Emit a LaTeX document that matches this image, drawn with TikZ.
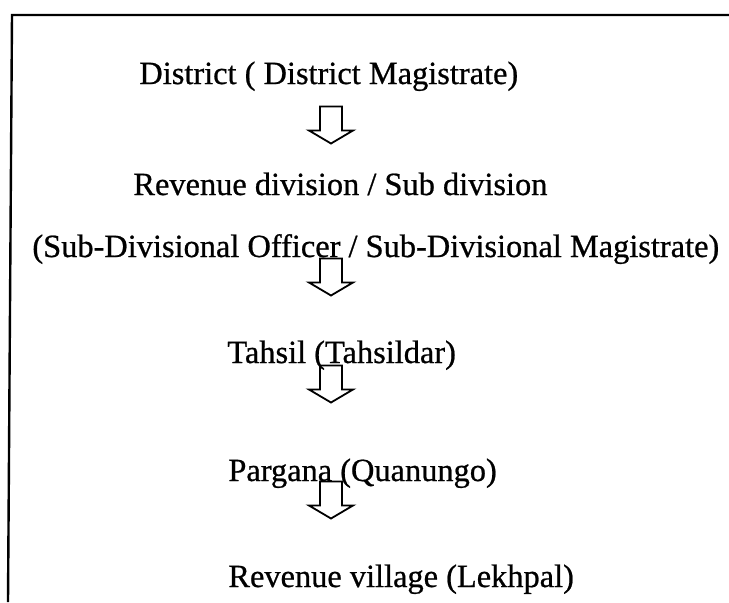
\documentclass[tikz,border=0pt]{standalone}
\usepackage{fontspec}
\setmainfont{Liberation Serif}[FakeBold=0.7]

\begin{document}
\begin{tikzpicture}[x=0.5pt,y=-0.5pt,
  level/.style={anchor=base west, inner sep=0pt, font=\fontsize{16.2}{19}\selectfont},
  downarrow/.style={line width=0.9pt, line join=miter}]
\useasboundingbox (0,0) rectangle (729,602);
% frame
\draw[line width=1.2pt] (729,15) -- (12,15) -- (8,602);
% levels
\node[level] (dist) at (139,84) {District ( District Magistrate)};
\node[level] (rdiv) at (133,195) {Revenue division / Sub division};
\node[level] (sdo) at (32,257) {(Sub-Divisional Officer / Sub-Divisional Magistrate)};
\node[level] (tahsil) at (227,363) {Tahsil (Tahsildar)};
\node[level] (pargana) at (228,481) {Pargana (Quanungo)};
\node[level] (village) at (228,587) {Revenue village (Lekhpal)};
% hollow arrows
\foreach \n/\y in {1/125,2/277,3/384,4/500}{
  \coordinate (arr\n) at (331,\y);
  \draw[downarrow] (arr\n) ++(-11,-18.5) -- ++(22,0) -- ++(0,24) -- ++(11,0)
    -- ++(-22,13) -- ++(-22,-13) -- ++(11,0) -- cycle;
}
\end{tikzpicture}
\end{document}
